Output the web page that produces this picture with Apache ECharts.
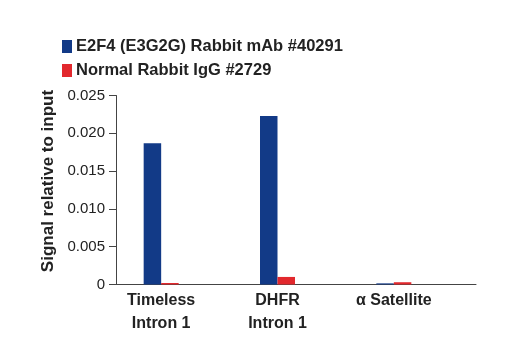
<!DOCTYPE html>
<html>
<head>
<meta charset="utf-8">
<script src="https://cdn.jsdelivr.net/npm/echarts@6/dist/echarts.min.js"></script>
<style>html,body{margin:0;padding:0;background:#fff}#c{width:520px;height:350px}</style>
</head>
<body>
<div id="c"></div>
<script>
const categories = ['Timeless\nIntron 1', 'DHFR\nIntron 1', 'α Satellite'];
const seriesNames = ['E2F4 (E3G2G) Rabbit mAb #40291', 'Normal Rabbit IgG #2729'];
const e2f4Values = [0.0187, 0.0223, 0.00015];
const iggValues = [0.0002, 0.001, 0.0003];
const yTicks = { min: 0, max: 0.025, interval: 0.005 };
const yAxisTitle = 'Signal relative to input';

const FONT = '"Liberation Sans", Arial, sans-serif';
const BLUE = '#123a87';
const RED = '#e2282d';
const AXIS = '#444';

const chart = echarts.init(document.getElementById('c'), null, { renderer: 'canvas' });
chart.setOption({
  animation: false,
  legend: {
    orient: 'vertical', left: 57, top: 33,
    itemWidth: 10, itemHeight: 13, itemGap: 7,
    icon: 'rect',
    textStyle: { fontFamily: FONT, fontWeight: 'bold', fontSize: 16.5, color: '#222', padding: [0, 0, 0, -1] },
    data: seriesNames
  },
  grid: [
    { left: 103, right: 68, top: 95.5, bottom: 65.5 },
    { left: 116, right: 44, top: 95.5, bottom: 65.5 }
  ],
  xAxis: [
    { type: 'category', gridIndex: 0, data: categories,
      axisLine: { show: false }, axisTick: { show: false },
      axisLabel: { fontFamily: FONT, fontWeight: 'bold', fontSize: 16, color: '#222', lineHeight: 23, margin: 5, interval: 0 } },
    { type: 'category', gridIndex: 1, data: categories,
      axisLine: { show: true, lineStyle: { color: AXIS, width: 1 } }, axisTick: { show: false },
      axisLabel: { show: false } }
  ],
  yAxis: [
    { type: 'value', gridIndex: 0, min: yTicks.min, max: yTicks.max, interval: yTicks.interval, show: false, splitLine: { show: false } },
    { type: 'value', gridIndex: 1, min: yTicks.min, max: yTicks.max, interval: yTicks.interval,
      name: yAxisTitle, nameLocation: 'middle', nameGap: 45, nameRotate: 90,
      nameTextStyle: { fontFamily: FONT, fontWeight: 'bold', fontSize: 17, color: '#222', padding: [0, 0, 0, 18] },
      axisLine: { show: true, lineStyle: { color: AXIS, width: 1 } },
      axisTick: { show: true, length: 7, lineStyle: { color: AXIS } },
      axisLabel: { fontFamily: FONT, fontSize: 15, color: '#222', margin: 11,
        formatter: v => v === 0 ? '0' : v.toFixed(3) },
      splitLine: { show: false } }
  ],
  series: [
    { name: seriesNames[0], type: 'bar', xAxisIndex: 0, yAxisIndex: 0, data: e2f4Values,
      barWidth: 17.5, barGap: '0%', itemStyle: { color: BLUE } },
    { name: seriesNames[1], type: 'bar', xAxisIndex: 0, yAxisIndex: 0, data: iggValues,
      barWidth: 17.5, barGap: '0%', itemStyle: { color: RED } }
  ]
});
</script>
</body>
</html>
